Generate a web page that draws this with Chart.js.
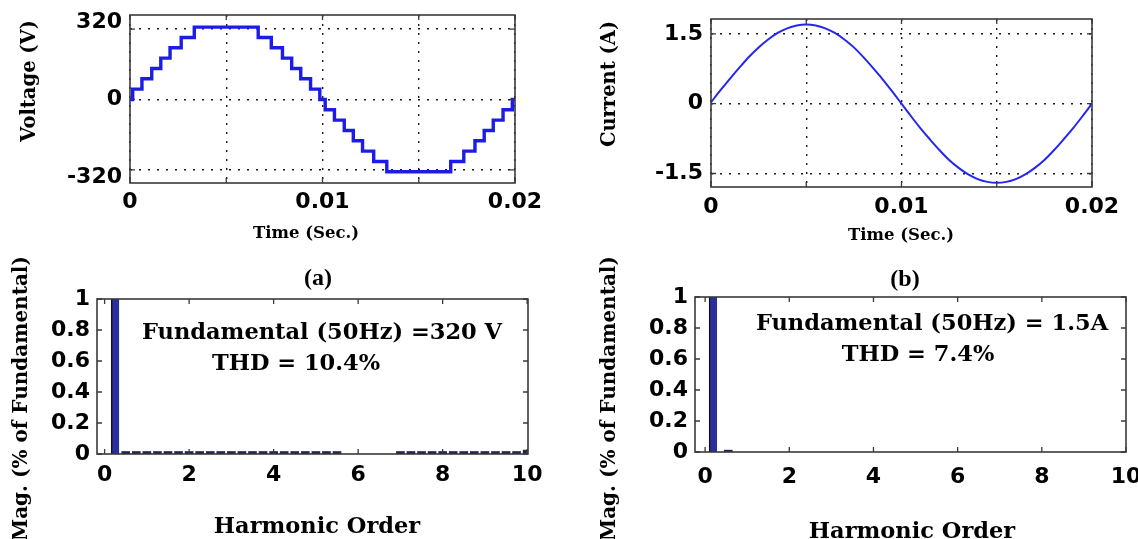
<!DOCTYPE html>
<html><head><meta charset="utf-8">
<script src="https://cdn.jsdelivr.net/npm/chart.js@4.4.0/dist/chart.umd.min.js"></script>
<style>
html,body{margin:0;padding:0;background:#fff;}
#wrap{position:relative;width:1138px;height:539px;overflow:hidden;background:#fff;}
canvas{position:absolute;left:0;top:0;}
</style></head><body>
<div id="wrap">
<canvas id="c1" width="1138" height="539"></canvas>
<canvas id="c2" width="1138" height="539"></canvas>
<canvas id="c3" width="1138" height="539"></canvas>
<canvas id="c4" width="1138" height="539"></canvas>
</div>
<script>
// ---------- data ----------
// (a) staircase output voltage: time at which each level starts, and the level (V)
const voltageTime  = [0, 0.00014, 0.00062, 0.00113, 0.00160, 0.00208, 0.00266, 0.00334,
                      0.00666, 0.00734, 0.00792, 0.00840, 0.00887, 0.00938, 0.00986,
                      0.01014, 0.01062, 0.01113, 0.01160, 0.01208, 0.01266, 0.01334,
                      0.01666, 0.01734, 0.01792, 0.01840, 0.01887, 0.01938, 0.01986, 0.02];
const voltageValue = [0, 47, 94, 141, 188, 235, 282, 329,
                      282, 235, 188, 141, 94, 47, 0,
                      -47, -94, -141, -188, -235, -282, -329,
                      -282, -235, -188, -141, -94, -47, 0, 0];
const voltageYTicks = [-320, 0, 320];
// end labels sit slightly outside their grid line, as in the original figure
const voltageYLabels = [['', '-320'], '0', ['320', '']];

// (b) load current
const currentTime = [0, 0.0005, 0.001, 0.0015, 0.002, 0.0025, 0.003, 0.0035, 0.004, 0.0045,
                     0.005, 0.0055, 0.006, 0.0065, 0.007, 0.0075, 0.008, 0.0085, 0.009, 0.0095,
                     0.01, 0.0105, 0.011, 0.0115, 0.012, 0.0125, 0.013, 0.0135, 0.014, 0.0145,
                     0.015, 0.0155, 0.016, 0.0165, 0.017, 0.0175, 0.018, 0.0185, 0.019, 0.0195, 0.02];
const currentValue = [0.03, 0.29, 0.54, 0.78, 1.01, 1.21, 1.38, 1.52, 1.62, 1.68,
                      1.70, 1.68, 1.62, 1.52, 1.38, 1.21, 1.00, 0.77, 0.53, 0.27,
                      0.00, -0.27, -0.53, -0.77, -1.00, -1.21, -1.38, -1.52, -1.62, -1.68,
                      -1.70, -1.68, -1.62, -1.52, -1.38, -1.21, -1.00, -0.77, -0.53, -0.27, 0.00];
const currentYTicks = [-1.5, 0, 1.5];
const currentYLabels = ['-1.5', '0', '1.5'];

const timeTicks = [0, 0.005, 0.01, 0.015, 0.02];
const timeTickLabels = ['0', '', '0.01', '', '0.02'];

// harmonic spectra
const harmonicTicks = [0, 2, 4, 6, 8, 10];
const harmonicTickLabels = ['0', '2', '4', '6', '8', '10'];
const magTicks = [0, 0.2, 0.4, 0.6, 0.8, 1];
const magTickLabels = ['0', '0.2', '0.4', '0.6', '0.8', '1'];

const voltageHarmonicOrder = [0.25, 0.5, 0.75, 1, 1.25, 1.5, 1.75, 2, 2.25, 2.5, 2.75, 3, 3.25, 3.5, 3.75,
                              4, 4.25, 4.5, 4.75, 5, 5.25, 5.5,
                              7, 7.25, 7.5, 7.75, 8, 8.25, 8.5, 8.75, 9, 9.25, 9.5, 9.75, 10];
const voltageHarmonicMag   = [1, 0.016, 0.016, 0.016, 0.016, 0.016, 0.016, 0.016, 0.016, 0.016, 0.016, 0.016, 0.016, 0.016, 0.016,
                              0.016, 0.016, 0.016, 0.016, 0.016, 0.016, 0.016,
                              0.016, 0.016, 0.016, 0.016, 0.016, 0.016, 0.016, 0.016, 0.016, 0.016, 0.016, 0.016, 0.025];
const currentHarmonicOrder = [0.19, 0.55];
const currentHarmonicMag   = [1, 0.012];

// ---------- helpers ----------
const TICK_FONT_X = {family: 'DejaVu Sans', size: 22, weight: 'bold', lineHeight: 1.2};
const TICK_FONT_Y = {family: 'DejaVu Sans', size: 22, weight: 'bold', lineHeight: 0.65};
const YTITLE_FONT = 'bold 19.5px "DejaVu Serif"';
const XTITLE_FONT = 'bold 16.5px "DejaVu Serif"';
const BIG_FONT = 'bold 22.5px "DejaVu Serif"';
const PANEL_FONT = 'bold 24px "Liberation Serif"';
const AXW = 70;   // reserved width for y tick labels
const AXH = 40;   // reserved height for x tick labels

const framePlugin = {
  id: 'frame',
  afterDraw(chart, args, opts) {
    const {ctx, chartArea: a, scales} = chart;
    ctx.save();
    ctx.strokeStyle = '#3a3a3a';
    ctx.lineWidth = 1.6;
    ctx.strokeRect(a.left, a.top, a.right - a.left, a.bottom - a.top);
    const L = 5;
    ctx.beginPath();
    scales.x.ticks.forEach(t => {
      const px = scales.x.getPixelForValue(t.value);
      ctx.moveTo(px, a.bottom); ctx.lineTo(px, a.bottom - L);
      ctx.moveTo(px, a.top); ctx.lineTo(px, a.top + L);
    });
    scales.y.ticks.forEach(t => {
      const py = scales.y.getPixelForValue(t.value);
      ctx.moveTo(a.left, py); ctx.lineTo(a.left + L, py);
      ctx.moveTo(a.right, py); ctx.lineTo(a.right - L, py);
    });
    ctx.lineWidth = 1.3;
    ctx.stroke();
    (opts.texts || []).forEach(t => {
      ctx.save();
      ctx.font = t.font;
      ctx.fillStyle = '#000';
      ctx.textAlign = t.align || 'center';
      ctx.textBaseline = 'middle';
      ctx.translate(t.x, t.y);
      if (t.rot) ctx.rotate(t.rot * Math.PI / 180);
      ctx.fillText(t.text, 0, 0);
      ctx.restore();
    });
    ctx.restore();
  }
};

function fixedTicks(values) {
  return s => { s.ticks = values.map(v => ({value: v})); };
}
function fitX(s) { s.height = AXH; s.paddingLeft = 0; s.paddingRight = 0; }
function fitY(s) { s.width = AXW; s.paddingTop = 0; s.paddingBottom = 0; }

function axisX(min, max, ticks, labels, pad, grid) {
  return {
    type: 'linear', min, max, offset: false,
    afterBuildTicks: fixedTicks(ticks),
    afterFit: fitX,
    ticks: {callback: (v, i) => labels[i], font: TICK_FONT_X, color: '#000', padding: pad, maxRotation: 0, minRotation: 0, autoSkip: false},
    grid: grid ? {display: true, drawTicks: false, color: '#1a1a1a', lineWidth: 1.4, offset: false} : {display: false, drawTicks: false},
    border: grid ? {display: false, dash: [2, 7]} : {display: false}
  };
}
function axisY(min, max, ticks, labels, pad, grid) {
  return {
    type: 'linear', min, max,
    afterBuildTicks: fixedTicks(ticks),
    afterFit: fitY,
    ticks: {callback: (v, i) => labels[i], font: TICK_FONT_Y, color: '#000', padding: pad, autoSkip: false},
    grid: grid ? {display: true, drawTicks: false, color: '#1a1a1a', lineWidth: 1.4} : {display: false, drawTicks: false},
    border: grid ? {display: false, dash: [2, 7]} : {display: false}
  };
}
// area = [left, top, right, bottom] of the plotting box in page pixels
function baseOptions(area, scales, texts) {
  const [l, t, r, b] = area;
  return {
    responsive: false, animation: false, devicePixelRatio: 1,
    layout: {padding: {left: l - AXW, top: t, right: 1138 - r, bottom: 539 - b - AXH}},
    plugins: {legend: {display: false}, tooltip: {enabled: false}, frame: {texts}},
    events: [],
    scales
  };
}

// ---------- (a) voltage waveform ----------
new Chart(document.getElementById('c1'), {
  type: 'line',
  data: {datasets: [{
    data: voltageTime.map((t, i) => ({x: t, y: voltageValue[i]})),
    stepped: true, borderColor: '#1c1ce6', borderWidth: 3.4, pointRadius: 0, fill: false
  }]},
  options: baseOptions([130, 15, 515, 183], {
    x: axisX(0, 0.02, timeTicks, timeTickLabels, 6, true),
    y: axisY(-380, 384, voltageYTicks, voltageYLabels, 8, true)
  }, [
    {text: 'Voltage (V)', x: 30, y: 81, rot: -90, font: YTITLE_FONT},
    {text: 'Time (Sec.)', x: 306, y: 234, font: XTITLE_FONT},
    {text: '(a)', x: 318, y: 279, font: PANEL_FONT}
  ]),
  plugins: [framePlugin]
});

// ---------- (b) current waveform ----------
new Chart(document.getElementById('c2'), {
  type: 'line',
  data: {datasets: [{
    data: currentTime.map((t, i) => ({x: t, y: currentValue[i]})),
    borderColor: '#2626ee', borderWidth: 2, pointRadius: 0, fill: false,
    cubicInterpolationMode: 'monotone'
  }]},
  options: baseOptions([711, 19, 1092, 187], {
    x: axisX(0, 0.02, timeTicks, timeTickLabels, 7, true),
    y: axisY(-1.79, 1.82, currentYTicks, currentYLabels, 8, true)
  }, [
    {text: 'Current (A)', x: 610, y: 84, rot: -90, font: YTITLE_FONT},
    {text: 'Time (Sec.)', x: 901, y: 236, font: XTITLE_FONT},
    {text: '(b)', x: 905, y: 280, font: PANEL_FONT}
  ]),
  plugins: [framePlugin]
});

// ---------- (a) voltage spectrum ----------
new Chart(document.getElementById('c3'), {
  type: 'bar',
  data: {datasets: [{
    data: voltageHarmonicOrder.map((h, i) => ({x: h, y: voltageHarmonicMag[i]})),
    backgroundColor: voltageHarmonicOrder.map((h, i) => i === 0 ? '#2b2f9c' : '#22224a'),
    borderColor: '#111',
    borderWidth: voltageHarmonicOrder.map((h, i) => i === 0 ? {left: 1.5, right: 0, top: 0, bottom: 0} : 0),
    borderSkipped: false,
    barThickness: 8, grouped: false
  }]},
  options: baseOptions([97, 299, 528, 454], {
    x: axisX(-0.18, 10.02, harmonicTicks, harmonicTickLabels, 8, false),
    y: axisY(0, 1, magTicks, magTickLabels, 7, false)
  }, [
    {text: 'Mag. (% of Fundamental)', x: 22, y: 541, rot: -90, align: 'left', font: 'bold 20px "DejaVu Serif"'},
    {text: 'Harmonic Order', x: 317, y: 527, font: BIG_FONT},
    {text: 'Fundamental (50Hz) =320 V', x: 322, y: 333, font: BIG_FONT},
    {text: 'THD = 10.4%', x: 296, y: 364, font: BIG_FONT}
  ]),
  plugins: [framePlugin]
});

// ---------- (b) current spectrum ----------
new Chart(document.getElementById('c4'), {
  type: 'bar',
  data: {datasets: [{
    data: currentHarmonicOrder.map((h, i) => ({x: h, y: currentHarmonicMag[i]})),
    backgroundColor: currentHarmonicOrder.map((h, i) => i === 0 ? '#2b2f9c' : '#22224a'),
    borderColor: '#111',
    borderWidth: currentHarmonicOrder.map((h, i) => i === 0 ? {left: 1.5, right: 0, top: 0, bottom: 0} : 0),
    borderSkipped: false,
    barThickness: 8, grouped: false
  }]},
  options: baseOptions([695, 297, 1126, 452], {
    x: axisX(-0.24, 10, harmonicTicks, harmonicTickLabels, 12, false),
    y: axisY(0, 1, magTicks, magTickLabels, 7, false)
  }, [
    {text: 'Mag. (% of Fundamental)', x: 610, y: 541, rot: -90, align: 'left', font: 'bold 20px "DejaVu Serif"'},
    {text: 'Harmonic Order', x: 912, y: 532, font: BIG_FONT},
    {text: 'Fundamental (50Hz) = 1.5A', x: 932, y: 324, font: BIG_FONT},
    {text: 'THD = 7.4%', x: 918, y: 355, font: BIG_FONT}
  ]),
  plugins: [framePlugin]
});
</script>
</body></html>
